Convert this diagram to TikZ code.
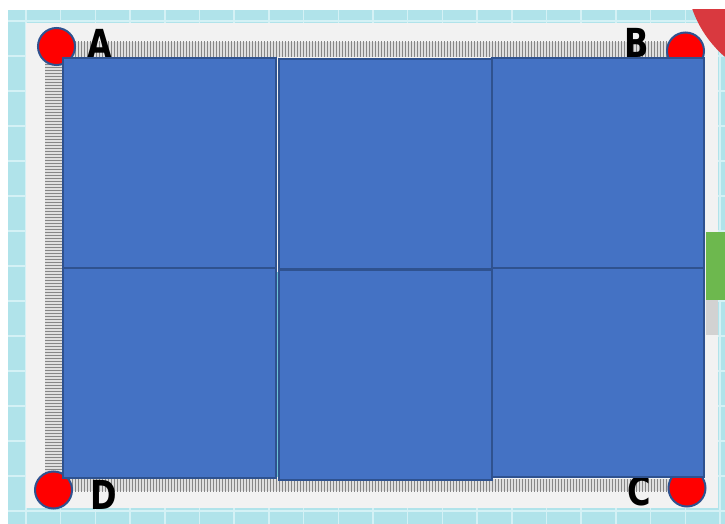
\documentclass[tikz,border=0pt]{standalone}
\usepackage{fontspec}
\newfontfamily\labelfont{DejaVu Sans}
\usetikzlibrary{patterns}
\definecolor{tilecyan}{HTML}{B0E3EA}
\definecolor{tileline}{HTML}{D4F1F5}
\definecolor{framegrey}{HTML}{F2F2F2}
\definecolor{blockblue}{HTML}{4472C4}
\definecolor{blockedge}{HTML}{2F528F}
\definecolor{cornerred}{HTML}{FF0000}
\definecolor{arcred}{HTML}{D9393F}
\definecolor{sidegreen}{HTML}{6DB84E}
\definecolor{gapcyan}{HTML}{6CC3D6}

\begin{document}
\begin{tikzpicture}[x=1pt, y=-1pt,
    tile/.style={fill=blockblue, draw=blockedge, line width=2.5pt},
    corner/.style={circle, fill=cornerred, draw=blockedge, line width=2pt, minimum size=37pt, inner sep=0pt},
    letter/.style={font=\labelfont\bfseries\fontsize{40}{40}\selectfont, inner sep=0pt, text=black}]

    \useasboundingbox (0,0) rectangle (725,524);

    % slide background
    \begin{scope}
        \clip (8,10) rectangle (725,524);
        \fill[tilecyan] (8,10) rectangle (725,524);
        \foreach \i in {0,...,20}
            \draw[tileline, line width=1.5pt] (26+34.7*\i,10) -- (26+34.7*\i,524);
        \foreach \j in {0,...,14}
            \draw[tileline, line width=1.5pt] (8,21+35*\j) -- (725,21+35*\j);
        \fill[framegrey] (26,23) rectangle (718,508);
        \fill[arcred] (798,-28) circle (112pt);
    \end{scope}
    \fill[sidegreen] (706,232) rectangle (725,300);
    \fill[gray!35] (706,300) rectangle (718,335);

    % ruler band
    \fill[gray!25] (45,42) rectangle (690,57);
    \fill[gray!25] (45,479) rectangle (690,491);
    \fill[gray!25] (45,57) rectangle (62,479);
    \path[pattern=vertical lines, pattern color=gray!95] (45,42) rectangle (690,57);
    \path[pattern=vertical lines, pattern color=gray!95] (45,479) rectangle (690,491);
    \path[pattern=horizontal lines, pattern color=gray!95] (45,57) rectangle (62,479);

    % corners
    \node[corner] (ptA) at (56.5,46.5) {};
    \node[corner] (ptB) at (685.5,51) {};
    \node[corner] (ptC) at (687,488) {};
    \node[corner] (ptD) at (53.5,490) {};
    \node[letter] (labA) at (100,44) {\scalebox{0.8}[1]{A}};
    \node[letter] (labB) at (637,43) {\scalebox{0.8}[1]{B}};
    \node[letter] (labC) at (639,491) {\scalebox{0.8}[1]{C}};
    \node[letter] (labD) at (104,495) {\scalebox{0.8}[1]{D}};

    % tiles
    \path[tile] (63,58) rectangle (276,268);
    \path[tile] (279,59) rectangle (492,269);
    \path[tile] (492,58) rectangle (704,268);
    \path[tile] (63,268) rectangle (276,478);
    \path[tile] (279,270) rectangle (492,480);
    \path[tile] (492,268) rectangle (704,477);
    \draw[gapcyan, line width=1pt] (277.5,272) -- (277.5,477);
\end{tikzpicture}
\end{document}
